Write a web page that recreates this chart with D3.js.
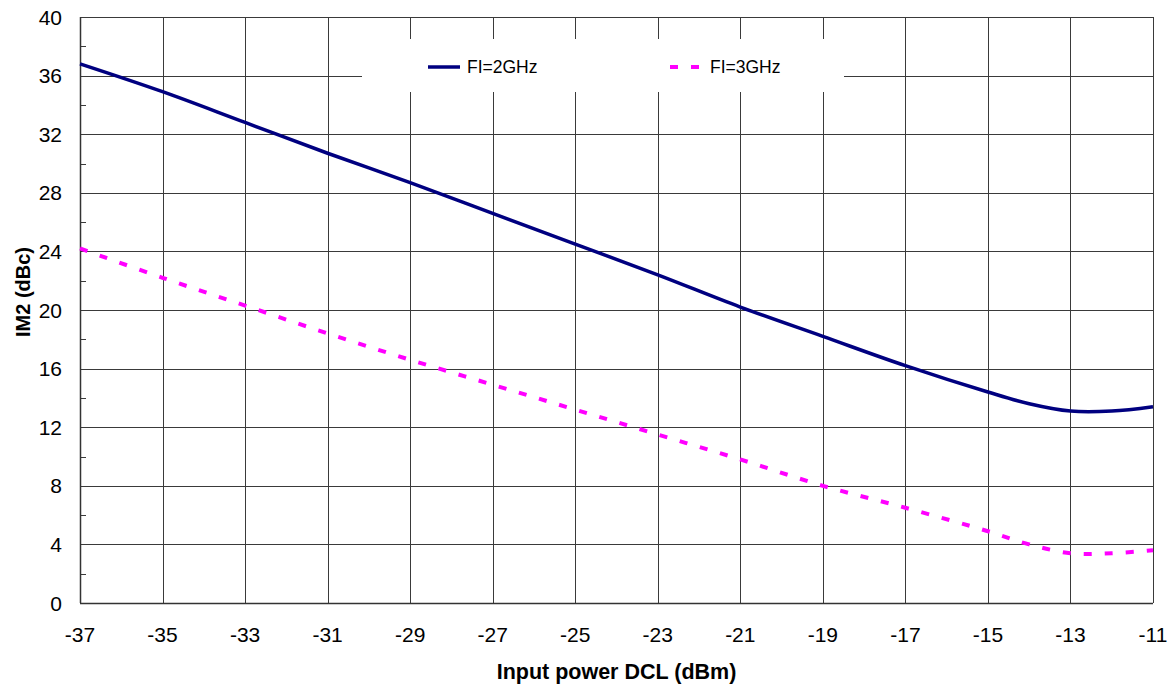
<!DOCTYPE html>
<html>
<head>
<meta charset="utf-8">
<script src="https://cdn.jsdelivr.net/npm/d3@7"></script>
<style>
  body { margin: 0; background: #fff; }
  svg { display: block; font-family: "Liberation Sans", Arial, sans-serif; }
</style>
</head>
<body>
<svg id="chart" width="1173" height="686"></svg>
<script>
// ── Data ─────────────────────────────────────────────────────────
const inputPower = [-37, -35, -33, -31, -29, -27, -25, -23, -21, -19, -17, -15, -14, -13, -12, -11];
const im2At2GHz  = [36.8, 34.9, 32.8, 30.7, 28.7, 26.6, 24.5, 22.4, 20.2, 18.2, 16.2, 14.4, 13.6, 13.1, 13.1, 13.4];
const im2At3GHz  = [24.2, 22.2, 20.3, 18.4, 16.6, 14.9, 13.2, 11.5, 9.8, 8.0, 6.5, 4.9, 4.0, 3.4, 3.4, 3.6];
const xTicks = [-37, -35, -33, -31, -29, -27, -25, -23, -21, -19, -17, -15, -13, -11];
const yTicks = [0, 4, 8, 12, 16, 20, 24, 28, 32, 36, 40];
const yMinor = [2, 6, 10, 14, 18, 22, 26, 30, 34, 38];

const series = [
  { name: 'FI=2GHz', values: im2At2GHz, color: '#000080', width: 3.5, dash: null },
  { name: 'FI=3GHz', values: im2At3GHz, color: '#ff00ff', width: 4, dash: '8,13' },
];

// ── Layout ───────────────────────────────────────────────────────
const svg = d3.select('#chart');
const plot = { left: 80, right: 1153, top: 17, bottom: 603 };

const x = d3.scaleLinear().domain([-37, -11]).range([plot.left, plot.right]);
const y = d3.scaleLinear().domain([0, 40]).range([plot.bottom, plot.top]);

const gridColor = '#3a3a3a';

// Grid lines
svg.append('g').selectAll('line.v')
  .data(xTicks)
  .enter().append('line')
  .attr('x1', d => Math.round(x(d)) + 0.5).attr('x2', d => Math.round(x(d)) + 0.5)
  .attr('y1', plot.top).attr('y2', plot.bottom)
  .attr('stroke', gridColor).attr('stroke-width', 1);

svg.append('g').selectAll('line.h')
  .data(yTicks)
  .enter().append('line')
  .attr('x1', plot.left).attr('x2', plot.right)
  .attr('y1', d => Math.round(y(d)) + 0.5).attr('y2', d => Math.round(y(d)) + 0.5)
  .attr('stroke', gridColor).attr('stroke-width', 1);

// Minor y ticks (inward)
svg.append('g').selectAll('line')
  .data(yMinor)
  .enter().append('line')
  .attr('x1', plot.left).attr('x2', plot.left + 6)
  .attr('y1', d => Math.round(y(d)) + 0.5).attr('y2', d => Math.round(y(d)) + 0.5)
  .attr('stroke', gridColor);

// Axis lines a bit heavier
svg.append('line')
  .attr('x1', plot.left + 0.5).attr('x2', plot.left + 0.5)
  .attr('y1', plot.top).attr('y2', plot.bottom)
  .attr('stroke', '#333').attr('stroke-width', 1.5);
svg.append('line')
  .attr('x1', plot.left).attr('x2', plot.right)
  .attr('y1', plot.bottom + 0.5).attr('y2', plot.bottom + 0.5)
  .attr('stroke', '#333').attr('stroke-width', 1.5);

// Legend background (hides grid behind it)
const legend = svg.append('g');
legend.append('rect')
  .attr('x', 362).attr('y', 39).attr('width', 482).attr('height', 53)
  .attr('fill', '#fff');

// ── Series ───────────────────────────────────────────────────────
const line = d3.line()
  .x((d, i) => x(inputPower[i]))
  .y(d => y(d))
  .curve(d3.curveCatmullRom.alpha(0.5));

series.forEach(s => {
  svg.append('path')
    .datum(s.values)
    .attr('d', line)
    .attr('fill', 'none')
    .attr('stroke', s.color)
    .attr('stroke-width', s.width)
    .attr('stroke-dasharray', s.dash);
});

// Legend entries
const legendItems = [
  { s: series[0], x1: 428, x2: 460, tx: 467 },
  { s: series[1], x1: 670, x2: 699, tx: 710 },
];
legendItems.forEach(it => {
  legend.append('line')
    .attr('x1', it.x1).attr('x2', it.x2)
    .attr('y1', 67).attr('y2', 67)
    .attr('stroke', it.s.color)
    .attr('stroke-width', it.s.width)
    .attr('stroke-dasharray', it.s.dash);
  legend.append('text')
    .attr('x', it.tx).attr('y', 73)
    .attr('font-size', '17.5px')
    .attr('fill', '#000')
    .text(it.s.name);
});

// ── Tick labels ──────────────────────────────────────────────────
svg.append('g').selectAll('text')
  .data(yTicks)
  .enter().append('text')
  .attr('x', 62).attr('y', d => y(d) + 7.5)
  .attr('text-anchor', 'end')
  .attr('font-size', '21px')
  .text(d => d);

svg.append('g').selectAll('text')
  .data(xTicks)
  .enter().append('text')
  .attr('x', d => x(d)).attr('y', plot.bottom + 39)
  .attr('text-anchor', 'middle')
  .attr('font-size', '21px')
  .text(d => d);

// Axis titles
svg.append('text')
  .attr('x', (plot.left + plot.right) / 2).attr('y', 679)
  .attr('text-anchor', 'middle')
  .attr('font-size', '21.5px')
  .attr('font-weight', 'bold')
  .text('Input power DCL (dBm)');

svg.append('text')
  .attr('transform', 'translate(30,292) rotate(-90)')
  .attr('text-anchor', 'middle')
  .attr('font-size', '20px')
  .attr('font-weight', 'bold')
  .text('IM2 (dBc)');
</script>
</body>
</html>
